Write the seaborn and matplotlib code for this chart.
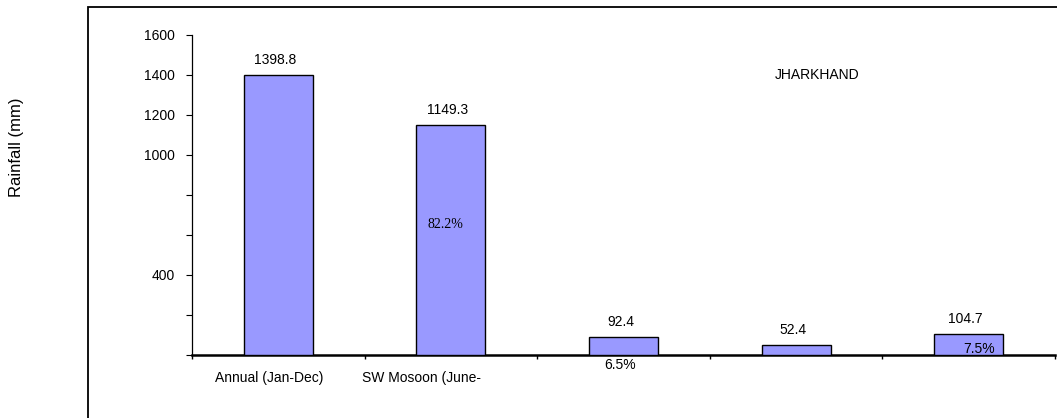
import matplotlib
matplotlib.use("Agg")
import matplotlib.pyplot as plt
import seaborn as sns
import pandas as pd
from matplotlib.patches import Rectangle

sns.set_style("white")
plt.rcParams['font.family'] = ['Liberation Sans', 'DejaVu Sans']
for k in ["text.color", "axes.labelcolor", "xtick.color", "ytick.color", "axes.edgecolor"]:
    plt.rcParams[k] = "black"

# ---- data ----
categories = ["Annual (Jan-Dec)", "SW Monsoon", "Winter", "Pre-monsoon", "Post-monsoon"]
tick_labels = ["Annual (Jan-Dec)", "SW Mosoon (June-", "", "", ""]
rainfall = [1398.8, 1149.3, 92.4, 52.4, 104.7]
value_labels = ["1398.8", "1149.3", "92.4", "52.4", "104.7"]
pct_labels = ["", "82.2%", "6.5%", "", "7.5%"]
yticks = [0, 200, 400, 600, 800, 1000, 1200, 1400, 1600]
ytick_labels = ["", "", "400", "", "", "1000", "1200", "1400", "1600"]
state = "JHARKHAND"

df = pd.DataFrame({"cat": categories, "rain": rainfall})

W, H = 1057, 418
fig = plt.figure(figsize=(W / 100, H / 100), dpi=100)
ax = fig.add_axes([192 / W, (H - 355) / H, (1055 - 192) / W, 320 / H])
fig.patches.append(Rectangle((88 / W, -0.1), 1.2, (H - 7) / H + 0.1, transform=fig.transFigure,
                             fill=False, edgecolor="black", linewidth=1.3, zorder=0))

sns.barplot(data=df, x="cat", y="rain", color="#9999FF", saturation=1, width=0.4,
            edgecolor="black", linewidth=1.0, ax=ax, zorder=3)

ax.set_ylim(0, 1600)
ax.set_xlim(-0.5, 4.5)
ax.set_yticks(yticks)
ax.set_yticklabels(ytick_labels, fontsize=10)
ax.tick_params(axis="y", direction="out", length=4, width=0.8, pad=8, left=True)

# category labels sit slightly left of bar centres in the original
label_shift = [-0.05, -0.17, 0, 0, 0]
ax.set_xticks([i + d for i, d in enumerate(label_shift)])
ax.set_xticklabels(tick_labels, fontsize=10)
ax.tick_params(axis="x", which="major", length=0, pad=11.5)
ax.set_xticks([i - 0.5 for i in range(len(categories) + 1)], minor=True)
ax.tick_params(axis="x", which="minor", direction="out", length=3, width=1, bottom=True)

ax.set_xlabel("")
ax.set_ylabel("")
for s in ["top", "right"]:
    ax.spines[s].set_visible(False)
ax.spines["left"].set_linewidth(0.9)
ax.spines["bottom"].set_linewidth(1.8)
ax.set_facecolor("none")
fig.patch.set_facecolor("white")

for i, (v, t) in enumerate(zip(rainfall, value_labels)):
    ax.annotate(t, (i, v), xytext=(-3, 15), textcoords="offset pixels",
                ha="center", va="center", fontsize=10)

pct_pos = {1: (-0.03, 650), 2: (-0.02, -50), 4: (0.06, 30)}
for i, p in enumerate(pct_labels):
    if p:
        dx, y = pct_pos[i]
        fam = ['Liberation Serif', 'DejaVu Serif'] if i == 1 else ['Liberation Sans', 'DejaVu Sans']
        ax.text(i + dx, y, p, ha="center", va="center", fontsize=10, family=fam, clip_on=False)

ax.text(3.12, 1400, state, ha="center", va="center", fontsize=10)

fig.text(17 / W, 1 - 147 / H, "Rainfall (mm)", rotation=90, ha="center", va="center", fontsize=12)

fig.savefig("out.png", dpi=100)
